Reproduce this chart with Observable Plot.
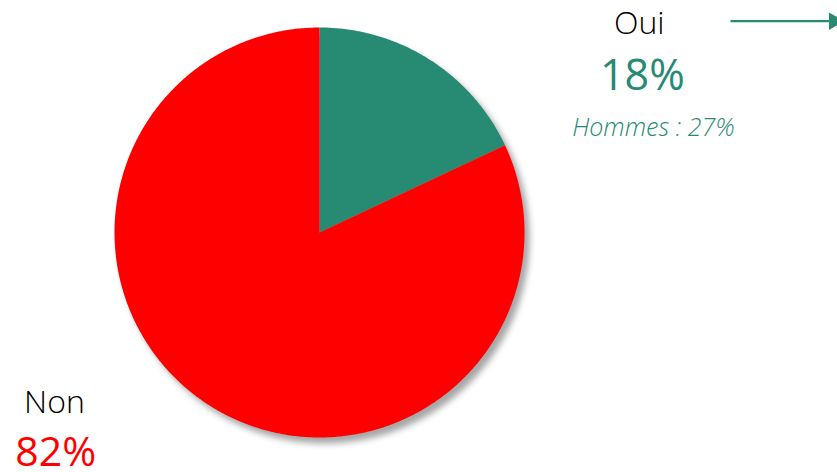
<!DOCTYPE html>
<html>
<head>
<meta charset="utf-8">
<script src="https://cdn.jsdelivr.net/npm/d3@7"></script>
<script src="https://cdn.jsdelivr.net/npm/@observablehq/plot@0.6"></script>
<style>
  html, body { margin: 0; padding: 0; background: #fff; }
  #chart svg { display: block; }
</style>
</head>
<body>
<div id="chart"></div>
<script>
// ---- data ----
const categories = ["Oui", "Non"];
const values = [18, 82];
const valueLabels = ["18%", "82%"];
const colors = ["#278a72", "#ff0000"];
const subNote = "Hommes : 27%";

// ---- slice polygons (unit circle, clockwise from 12 o'clock) ----
const total = d3.sum(values);
const slicePoints = [];
let acc = 0;
categories.forEach((c, i) => {
  const a0 = acc / total * 2 * Math.PI;
  acc += values[i];
  const a1 = acc / total * 2 * Math.PI;
  slicePoints.push({key: c, x: 0, y: 0});
  const n = Math.max(2, Math.ceil((a1 - a0) / (Math.PI / 360)));
  for (let k = 0; k <= n; k++) {
    const a = a0 + (a1 - a0) * k / n;
    slicePoints.push({key: c, x: Math.sin(a), y: Math.cos(a)});
  }
  slicePoints.push({key: c, x: 0, y: 0});
});
const colorOf = Object.fromEntries(categories.map((c, i) => [c, colors[i]]));

const font = "'Open Sans', 'Noto Sans', sans-serif";

const chart = Plot.plot({
  width: 837,
  height: 472,
  margin: 0,
  x: {domain: [-1, 1], range: [114, 524], axis: null},
  y: {domain: [-1, 1], range: [437, 27], axis: null},
  marks: [
    Plot.line(slicePoints, {
      x: "x", y: "y", z: "key",
      fill: d => colorOf[d.key], stroke: "none", curve: "linear"
    }),
    // Oui labels
    Plot.text([categories[0]], {
      x: 1.56, y: 1.018, text: d => d,
      fontFamily: font, fontSize: 32, fontWeight: 300, fill: "#000"
    }),
    Plot.text([valueLabels[0]], {
      x: 1.575, y: 0.762, text: d => d,
      fontFamily: font, fontSize: 43, fontWeight: 500, fill: colors[0]
    }),
    Plot.text([subNote], {
      x: 1.629, y: 0.51, text: d => d,
      fontFamily: font, fontSize: 25, fontStyle: "italic", fontWeight: 300, fill: colors[0]
    }),
    // Non labels
    Plot.text([categories[1]], {
      x: -1.293, y: -0.83, text: d => d,
      fontFamily: font, fontSize: 32, fontWeight: 300, fill: "#000"
    }),
    Plot.text([valueLabels[1]], {
      x: -1.287, y: -1.075, text: d => d,
      fontFamily: font, fontSize: 41, fontWeight: 400, fill: colors[1]
    }),
    // arrow
    Plot.link([0], {
      x1: 2.005, y1: 1.031, x2: 2.49, y2: 1.031,
      stroke: colors[0], strokeWidth: 2.2
    }),
    Plot.dot([0], {
      x: 2.51, y: 1.031, symbol: "triangle", rotate: 90, r: 6.5,
      fill: colors[0], stroke: "none"
    })
  ]
});

d3.select(chart).select('g[aria-label="line"]')
  .style("filter", "drop-shadow(5px 6px 3px rgba(0,0,0,0.35))");

document.getElementById("chart").appendChild(chart);
</script>
</body>
</html>
